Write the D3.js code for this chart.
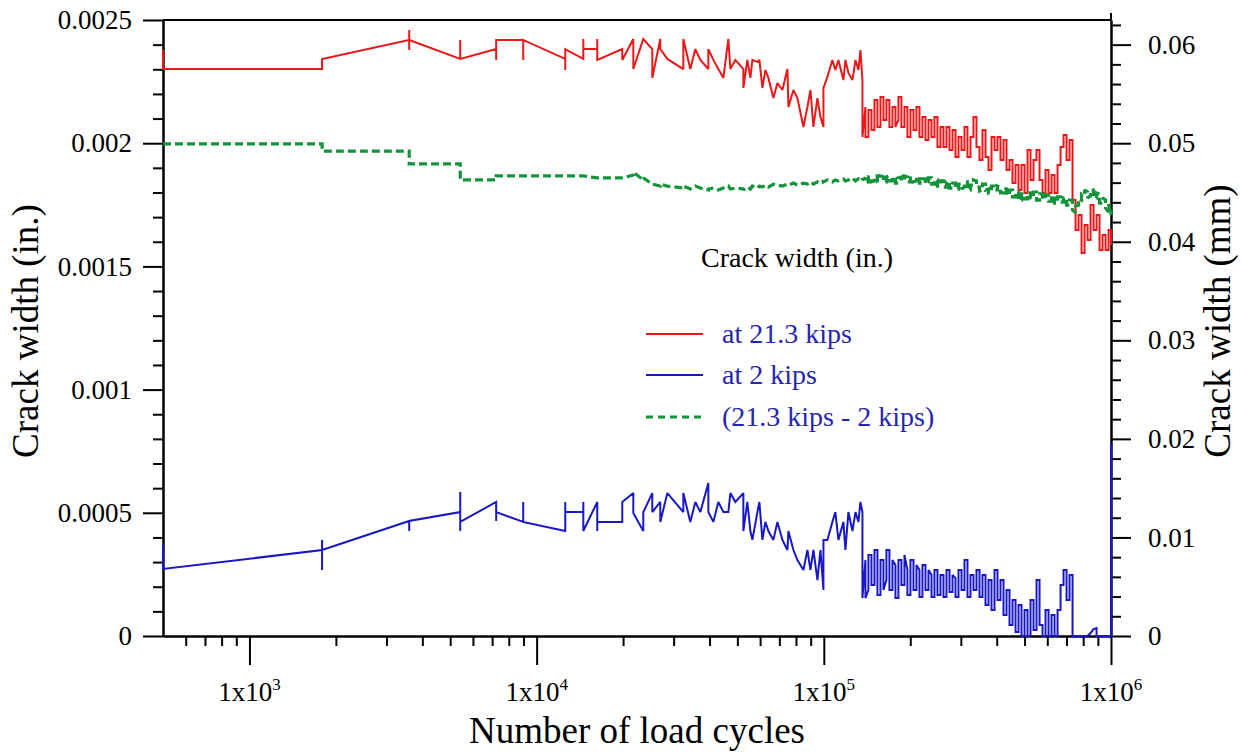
<!DOCTYPE html>
<html><head><meta charset="utf-8">
<script src="https://cdn.jsdelivr.net/npm/d3@7"></script>
<style>body{margin:0;background:#fff}</style>
</head><body>
<svg id="chart" width="1241" height="753"></svg>
<script>
// Number of load cycles (shared by the three series; repeated values = repeated readings)
const cycles = [
500,500,1790,1790,1790,1790,3600,3600,3600,3600,
5420,5420,5420,5420,7230,7230,7230,7230,8980,8980,
8980,12580,12580,12580,14540,14540,14540,16260,16260,16260,
19870,19870,21710,21710,23520,23520,25280,25280,26950,26950,
28520,32420,32420,34290,35700,37160,39620,39620,41240,42930,
44690,46520,47270,49200,52460,52460,54170,55500,56400,58710,
59660,61110,62600,64120,66740,68930,71750,74690,75290,78370,
80920,84900,87690,89820,92010,95010,97330,99700,99700,102900,
107100,109700,112400,117000,118900,121800,125800,128900,132000,134100,
136300,136300,
139600,139600,143000,143000,146500,146500,150100,150100,153700,153700,
157500,157500,161300,161300,165200,165200,169200,169200,173400,173400,
177600,177600,181900,181900,186300,186300,190900,190900,195500,195500,
200300,200300,205200,205200,210200,210200,215300,215300,220500,220500,
225900,225900,231400,231400,237100,237100,242800,242800,248700,248700,
254800,254800,261000,261000,267400,267400,273900,273900,280600,280600,
287400,287400,294400,294400,301600,301600,308900,308900,316400,316400,
324100,324100,332000,332000,340100,340100,348400,348400,356900,356900,
365600,365600,374500,374500,383600,383600,393000,393000,402500,402500,
412300,412300,422400,422400,432700,432700,443200,443200,454000,454000,
465100,465100,476400,476400,488000,488000,499900,499900,512100,512100,
524500,524500,537300,537300,550400,550400,563800,563800,577600,577600,
591600,591600,606000,606000,620800,620800,635900,635900,651400,651400,
667300,667300,683500,683500,700200,700200,717200,717200,734700,734700,
752600,752600,770900,770900,789700,789700,809000,809000,828700,828700,
848900,848900,869500,869500,890700,890700,912400,912400,934600,934600,
957400,957400,980700,980700,1000000,1000000,1000000,1000000
];
// Crack width (in.) at 21.3 kips
const widthAt21 = [
.002378,.002301,.002301,.002342,.002342,.002342,.002419,.002459,.002378,.002419,
.002342,.002419,.002342,.002342,.002382,.002419,.002338,.002419,.002419,.002338,
.002419,.002342,.002297,.002382,.002342,.002423,.002382,.002382,.002423,.002338,
.002382,.002338,.002423,.002301,.002423,.002423,.002382,.002265,.002423,.002382,
.002342,.002301,.002423,.002301,.002382,.002338,.002301,.002382,.002338,.002301,
.002265,.002423,.002301,.002338,.002301,.002224,.002338,.002265,.002338,.002330,
.002338,.002224,.002297,.002265,.002183,.002244,.002216,.002301,.002147,.002216,
.002183,.002066,.002147,.002216,.002066,.002183,.002106,.002066,.002224,.002269,
.002338,.002297,.002338,.002256,.002338,.002285,.002256,.002338,.002297,.002378,
.002256,.002025,
.002147,.002025,.002025,.002135,.002135,.002054,.002054,.002175,.002175,.002066,
.002066,.002188,.002188,.002094,.002094,.002175,.002175,.002066,.002066,.002147,
.002147,.002066,.002094,.002188,.002188,.002066,.002066,.002147,.002147,.002025,
.002025,.002135,.002135,.002054,.002054,.002147,.002147,.002025,.002025,.002106,
.002106,.002013,.002013,.002094,.002094,.002025,.002025,.002106,.002106,.001985,
.001985,.002066,.002066,.001985,.001985,.002066,.002066,.001972,.001972,.002054,
.002054,.001944,.001944,.002025,.002025,.001972,.001972,.002066,.002066,.001944,
.001944,.002025,.002025,.002106,.002106,.001985,.001985,.001932,.001932,.002054,
.002054,.001944,.001944,.001891,.001891,.002025,.002025,.001972,.001972,.002025,
.002025,.001932,.001932,.002013,.002013,.001891,.001891,.001932,.001932,.001838,
.001838,.001912,.001912,.001810,.001810,.001912,.001912,.001798,.001798,.001972,
.001972,.001851,.001851,.001932,.001932,.001972,.001972,.001851,.001851,.001798,
.001798,.001891,.001891,.001798,.001798,.001871,.001871,.001798,.001798,.001912,
.001912,.001985,.001985,.002033,.002033,.001932,.001932,.002013,.002013,.001769,
.001769,.001648,.001648,.001709,.001709,.001554,.001554,.001668,.001668,.001607,
.001607,.001749,.001749,.001648,.001648,.001709,.001709,.001567,.001567,.001627,
.001627,.001567,.001567,.001648,.001648,.001587,.001587,.001587
];
// Crack width (in.) at 2 kips
const widthAt2 = [
.000369,.000272,.000349,.000390,.000268,.000349,.000467,.000426,.000467,.000467,
.000503,.000584,.000426,.000463,.000544,.000467,.000503,.000503,.000463,.000544,
.000463,.000426,.000544,.000503,.000503,.000544,.000426,.000544,.000426,.000463,
.000463,.000544,.000580,.000499,.000426,.000503,.000580,.000503,.000544,.000463,
.000580,.000503,.000580,.000463,.000544,.000503,.000621,.000503,.000463,.000544,
.000503,.000503,.000580,.000544,.000580,.000426,.000544,.000426,.000390,.000503,
.000544,.000390,.000463,.000426,.000390,.000463,.000390,.000349,.000426,.000349,
.000308,.000268,.000349,.000268,.000349,.000227,.000349,.000187,.000390,.000390,
.000463,.000503,.000390,.000463,.000349,.000503,.000426,.000503,.000463,.000544,
.000503,.000154,
.000308,.000154,.000187,.000329,.000329,.000207,.000207,.000349,.000349,.000166,
.000166,.000308,.000308,.000187,.000227,.000349,.000349,.000187,.000187,.000308,
.000288,.000154,.000154,.000308,.000308,.000207,.000207,.000329,.000268,.000166,
.000166,.000308,.000308,.000187,.000187,.000288,.000268,.000158,.000158,.000288,
.000288,.000187,.000187,.000268,.000248,.000158,.000158,.000268,.000268,.000166,
.000166,.000248,.000248,.000158,.000158,.000268,.000268,.000179,.000179,.000248,
.000235,.000158,.000158,.000268,.000268,.000187,.000187,.000308,.000308,.000158,
.000158,.000248,.000248,.000187,.000187,.000268,.000268,.000158,.000158,.000248,
.000248,.000126,.000126,.000227,.000227,.000106,.000106,.000268,.000268,.000146,
.000146,.000227,.000227,.000085,.000085,.000187,.000187,.000045,.000045,.000146,
.000146,.000016,.000016,.000126,.000126,0,0,.000106,.000106,0,
0,.000146,.000146,.000024,.000024,.000227,.000227,.000045,.000045,0,
0,.000106,.000106,0,0,.000085,.000085,0,0,.000106,
.000106,.000207,.000207,.000268,.000268,.000146,.000146,.000248,.000248,0,
0,0,0,0,0,0,0,0,0,0,
.000012,.000012,.000028,.000028,.000032,0,0,0,0,0,
0,0,0,0,0,0,.000783,.000783
];
// Crack width (in.) difference (21.3 kips - 2 kips)
const widthDiff = [
.001997,.001997,.001997,.001968,.001968,.001968,.001968,.001916,.001916,.001916,
.001916,.001851,.001851,.001851,.001851,.001867,.001867,.001867,.001867,.001867,
.001867,.001867,.001867,.001867,.001867,.001867,.001867,.001859,.001859,.001859,
.001859,.001859,.001871,.001883,.001851,.001859,.001834,.001834,.001826,.001834,
.001826,.001818,.001826,.001814,.001826,.001818,.001810,.001814,.001818,.001810,
.001818,.001826,.001814,.001818,.001814,.001810,.001822,.001814,.001826,.001818,
.001826,.001822,.001830,.001822,.001834,.001830,.001826,.001834,.001830,.001838,
.001830,.001838,.001834,.001843,.001834,.001843,.001838,.001847,.001843,.001851,
.001843,.001851,.001847,.001855,.001847,.001851,.001859,.001847,.001855,.001851,
.001859,.001851,
.001859,.001838,.001843,.001863,.001863,.001843,.001847,.001867,.001867,.001847,
.001851,.001867,.001863,.001843,.001843,.001863,.001867,.001847,.001847,.001863,
.001859,.001838,.001838,.001859,.001863,.001847,.001851,.001867,.001863,.001843,
.001843,.001859,.001859,.001843,.001847,.001863,.001863,.001838,.001838,.001855,
.001855,.001834,.001843,.001859,.001859,.001834,.001834,.001851,.001851,.001826,
.001826,.001847,.001847,.001822,.001822,.001843,.001843,.001818,.001818,.001838,
.001838,.001814,.001814,.001834,.001834,.001814,.001822,.001843,.001843,.001810,
.001810,.001830,.001830,.001851,.001847,.001822,.001822,.001806,.001810,.001834,
.001834,.001810,.001814,.001798,.001802,.001826,.001826,.001810,.001810,.001826,
.001822,.001798,.001798,.001818,.001814,.001790,.001790,.001810,.001810,.001782,
.001782,.001802,.001802,.001769,.001769,.001794,.001794,.001774,.001774,.001798,
.001798,.001778,.001778,.001802,.001802,.001769,.001769,.001794,.001794,.001774,
.001774,.001790,.001790,.001765,.001765,.001786,.001786,.001757,.001757,.001782,
.001782,.001761,.001761,.001778,.001778,.001749,.001749,.001769,.001769,.001729,
.001717,.001745,.001749,.001774,.001769,.001794,.001790,.001810,.001802,.001778,
.001786,.001810,.001810,.001782,.001778,.001798,.001794,.001757,.001757,.001778,
.001769,.001737,.001721,.001753,.001709,.001729,.001709,.001709
];
const leftTicks = [0, 0.0005, 0.001, 0.0015, 0.002, 0.0025];
const leftTickLabels = ["0", "0.0005", "0.001", "0.0015", "0.002", "0.0025"];
const rightTicks = [0, 0.01, 0.02, 0.03, 0.04, 0.05, 0.06];
const rightTickLabels = ["0", "0.01", "0.02", "0.03", "0.04", "0.05", "0.06"];
const xTicks = [1e3, 1e4, 1e5, 1e6];
const xTickExponents = ["3", "4", "5", "6"];
const legendTitle = "Crack width (in.)";
const legendLabels = ["at 21.3 kips", "at 2 kips", "(21.3 kips - 2 kips)"];

const FONT = "'Liberation Serif','Times New Roman',serif";
const L = 163, R = 1111, T = 20, B = 636;
const svg = d3.select("#chart").style("font-family", FONT);

const x = d3.scaleLog().domain([500, 1e6]).range([L, R]);
const y = d3.scaleLinear().domain([0, 0.0025]).range([B, T]);
const yR = d3.scaleLinear().domain([0, 0.0625]).range([B, T]);

function styleAxis(g) {
  g.attr("font-family", FONT);
  g.selectAll("path.domain").attr("stroke", "#000").attr("stroke-width", 2);
  g.selectAll(".tick line").attr("stroke", "#000").attr("stroke-width", 2);
  g.selectAll(".tick text").attr("font-family", FONT).attr("font-size", 27).attr("fill", "#000");
}

// minor tick positions
const leftMinor = d3.range(0, 0.00251, 0.0001).filter(v => Math.abs((v / 0.0005) - Math.round(v / 0.0005)) > 1e-6);
const rightMinor = d3.range(0, 0.0625, 0.002).filter(v => Math.abs((v / 0.01) - Math.round(v / 0.01)) > 1e-6);
const xMinor = [];
[100, 1000, 10000, 100000].forEach(dec => { for (let k = 2; k <= 9; k++) { const v = k * dec; if (v > 500 && v < 1e6) xMinor.push(v); } });

// left axis
svg.append("g").attr("transform", `translate(${L},0)`)
  .call(d3.axisLeft(y).tickValues(leftMinor).tickSize(10).tickSizeOuter(0).tickFormat(""))
  .call(styleAxis);
svg.append("g").attr("transform", `translate(${L},0)`)
  .call(d3.axisLeft(y).tickValues(leftTicks).tickSize(20).tickSizeOuter(0).tickPadding(11)
    .tickFormat((d, i) => leftTickLabels[i]))
  .call(styleAxis);

// right axis
svg.append("g").attr("transform", `translate(${R},0)`)
  .call(d3.axisRight(yR).tickValues(rightMinor).tickSize(10).tickSizeOuter(0).tickFormat(""))
  .call(styleAxis);
svg.append("g").attr("transform", `translate(${R},0)`)
  .call(d3.axisRight(yR).tickValues(rightTicks).tickSize(20).tickSizeOuter(0).tickPadding(17)
    .tickFormat((d, i) => rightTickLabels[i]))
  .call(styleAxis);
svg.append("line").attr("x1", R).attr("x2", R).attr("y1", 13).attr("y2", T)
  .attr("stroke", "#000").attr("stroke-width", 2);

// bottom axis
svg.append("g").attr("transform", `translate(0,${B})`)
  .call(d3.axisBottom(x).tickValues(xMinor).tickSize(10).tickSizeOuter(0).tickFormat(""))
  .call(styleAxis);
svg.append("g").attr("transform", `translate(0,${B})`)
  .call(d3.axisBottom(x).tickValues(xTicks).tickSize(29).tickSizeOuter(0).tickFormat(""))
  .call(styleAxis);
xTicks.forEach((t, i) => {
  const tx = svg.append("text").attr("x", x(t)).attr("y", 701)
    .attr("text-anchor", "middle").attr("font-size", 27).attr("fill", "#000");
  tx.append("tspan").text("1x10");
  tx.append("tspan").attr("dy", -11).attr("font-size", 17).text(xTickExponents[i]);
});

// top frame
svg.append("line").attr("x1", L).attr("x2", R).attr("y1", T).attr("y2", T)
  .attr("stroke", "#000").attr("stroke-width", 2);

// axis titles
svg.append("text").attr("x", 637).attr("y", 743).attr("text-anchor", "middle")
  .attr("font-size", 37).attr("fill", "#000").text("Number of load cycles");
svg.append("text").attr("transform", "translate(38,331) rotate(-90)").attr("text-anchor", "middle")
  .attr("font-size", 37).attr("fill", "#000").text("Crack width (in.)");
svg.append("text").attr("transform", "translate(1230,321) rotate(-90)").attr("text-anchor", "middle")
  .attr("font-size", 37).attr("fill", "#000").text("Crack width (mm)");

// series
const idx = d3.range(cycles.length);
const series = [
  { vals: widthAt21, color: "#ea1818", width: 2, dash: null },
  { vals: widthAt2, color: "#1818c8", width: 2, dash: null },
  { vals: widthDiff, color: "#14943a", width: 3.2, dash: "8,4" }
];
series.forEach(s => {
  const line = d3.line().x(i => x(cycles[i])).y(i => y(s.vals[i]));
  svg.append("path").datum(idx).attr("d", line).attr("fill", "none")
    .attr("stroke", s.color).attr("stroke-width", s.width)
    .attr("stroke-linejoin", "miter").attr("stroke-miterlimit", 2)
    .attr("stroke-dasharray", s.dash);
});

// legend
svg.append("text").attr("x", 797).attr("y", 267).attr("text-anchor", "middle")
  .attr("font-size", 28).attr("fill", "#000").text(legendTitle);
const legY = [334, 375, 417];
series.forEach((s, i) => {
  svg.append("line").attr("x1", 646).attr("x2", 703).attr("y1", legY[i]).attr("y2", legY[i])
    .attr("stroke", s.color).attr("stroke-width", i === 2 ? 3.2 : 2)
    .attr("stroke-dasharray", i === 2 ? "7,5" : null);
  svg.append("text").attr("x", 722).attr("y", legY[i] + 9).attr("font-size", 28)
    .attr("fill", "#2525b0").text(legendLabels[i]);
});
</script>
</body></html>
